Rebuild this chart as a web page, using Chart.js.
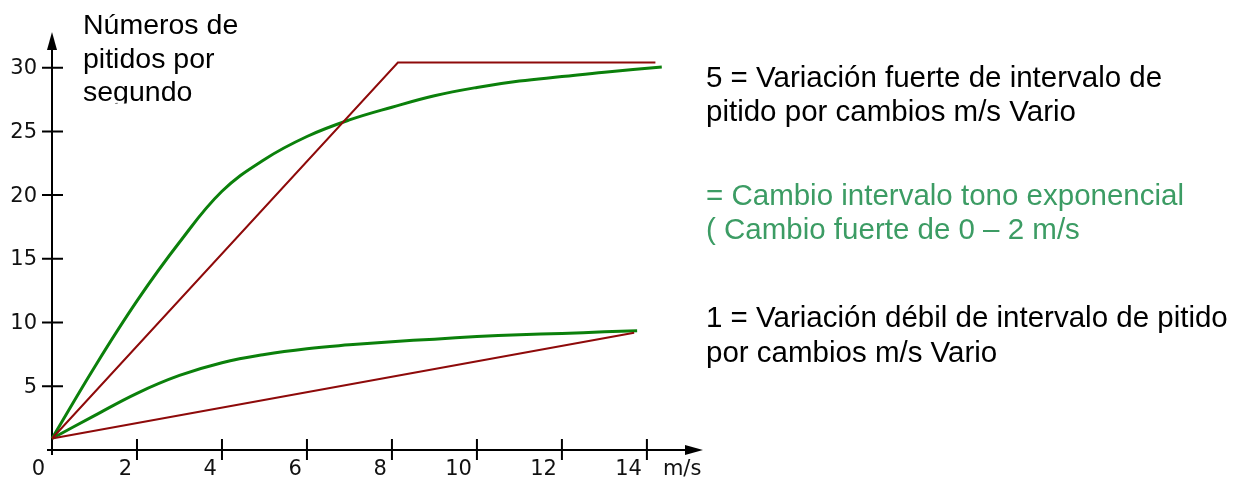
<!DOCTYPE html>
<html lang="es">
<head>
    <meta charset="UTF-8">
    <title>Pitidos por segundo</title>
    <script src="https://cdn.jsdelivr.net/npm/chart.js"></script>
    <style>
        html, body { margin: 0; padding: 0; background: #fff; }
        #wrap { width: 1237px; height: 477px; }
    </style>
</head>
<body>
    <div id="wrap"><canvas id="chart"></canvas></div>

    <script>
        // values (x in m/s, y in beeps per second)
        const strongLinearX = [0, 8.14, 14.2];
        const strongLinearY = [0.9, 30.4, 30.4];
        const strongExpX = [0, 1, 2, 3, 4, 5, 6, 7, 8, 9, 10, 11, 12, 13, 14.35];
        const strongExpY = [0.9, 6.5, 11.7, 16.3, 20.3, 22.8, 24.6, 25.9, 26.9, 27.8, 28.45, 28.95, 29.3, 29.65, 30.05];
        const weakLinearX = [0, 13.7];
        const weakLinearY = [0.9, 9.2];
        const weakExpX = [0, 1, 2, 3, 4, 5, 6, 7, 8, 9, 10, 11, 12, 13, 13.77];
        const weakExpY = [0.9, 2.7, 4.45, 5.85, 6.85, 7.5, 7.95, 8.25, 8.5, 8.7, 8.9, 9.05, 9.15, 9.27, 9.35];

        const xTicks = [2, 4, 6, 8, 10, 12, 14];
        const yTicks = [5, 10, 15, 20, 25, 30];
        const xUnit = 'm/s';
        const titleLines = ['Números de', 'pitidos por', 'segundo'];
        const noteStrong = ['5 = Variación fuerte de intervalo de', 'pitido por cambios m/s Vario'];
        const noteExp = ['= Cambio intervalo tono exponencial', '( Cambio fuerte de 0 – 2 m/s'];
        const noteWeak = ['1 = Variación débil de intervalo de pitido', 'por cambios m/s Vario'];

        const RED = '#8e0a0a';
        const GREEN = '#0b800b';
        const TEXT_GREEN = '#3c9c64';

        function pts(xs, ys) {
            return xs.map((x, i) => ({ x: x, y: ys[i] }));
        }

        // axes with arrows, crossing ticks and labels
        const axesPlugin = {
            id: 'axes',
            beforeDatasetsDraw(chart) {
                const ctx = chart.ctx;
                const xs = chart.scales.x, ys = chart.scales.y;
                const x0 = xs.getPixelForValue(0), y0 = ys.getPixelForValue(0);
                const xEnd = xs.right, yTop = ys.top;
                ctx.save();
                ctx.strokeStyle = '#000';
                ctx.fillStyle = '#000';
                ctx.lineWidth = 2;
                ctx.beginPath();
                ctx.moveTo(x0, y0 + 5); ctx.lineTo(x0, yTop + 12);
                ctx.moveTo(x0 - 5, y0); ctx.lineTo(xEnd - 12, y0);
                yTicks.forEach(v => {
                    const py = ys.getPixelForValue(v);
                    ctx.moveTo(x0 - 10, py); ctx.lineTo(x0 + 11, py);
                });
                xTicks.forEach(v => {
                    const px = xs.getPixelForValue(v);
                    ctx.moveTo(px, y0 - 11); ctx.lineTo(px, y0 + 10);
                });
                ctx.stroke();
                // arrow heads
                ctx.beginPath();
                ctx.moveTo(x0, yTop); ctx.lineTo(x0 - 5, yTop + 18); ctx.lineTo(x0 + 5, yTop + 18);
                ctx.closePath(); ctx.fill();
                ctx.beginPath();
                ctx.moveTo(xEnd, y0); ctx.lineTo(xEnd - 18, y0 - 5); ctx.lineTo(xEnd - 18, y0 + 5);
                ctx.closePath(); ctx.fill();

                ctx.font = '21px "DejaVu Sans"';
                ctx.fillStyle = '#111';
                ctx.textAlign = 'right';
                ctx.textBaseline = 'middle';
                yTicks.forEach(v => ctx.fillText(String(v), x0 - 15, ys.getPixelForValue(v) + 1));
                ctx.textBaseline = 'alphabetic';
                ctx.fillText('0', x0 - 7, y0 + 25);
                xTicks.forEach(v => ctx.fillText(String(v), xs.getPixelForValue(v) - 5, y0 + 25));
                ctx.textAlign = 'left';
                ctx.fillText(xUnit, xs.getPixelForValue(14) + 16, y0 + 25);
                ctx.restore();
            },
            afterDraw(chart) {
                const ctx = chart.ctx;
                ctx.save();
                ctx.textAlign = 'left';
                ctx.textBaseline = 'alphabetic';
                ctx.font = '28.5px "Liberation Sans", Arial, sans-serif';
                ctx.fillStyle = '#000';
                // the last title line is cut off at the bottom in the original
                ctx.save();
                ctx.beginPath();
                ctx.rect(0, 0, 400, 103.5);
                ctx.clip();
                titleLines.forEach((t, i) => ctx.fillText(t, 83, 34 + i * 33.5));
                ctx.restore();

                ctx.font = '29.5px "Liberation Sans", Arial, sans-serif';
                noteStrong.forEach((t, i) => ctx.fillText(t, 706, 87 + i * 34));
                ctx.fillStyle = TEXT_GREEN;
                noteExp.forEach((t, i) => ctx.fillText(t, 706, 205 + i * 34));
                ctx.fillStyle = '#000';
                noteWeak.forEach((t, i) => ctx.fillText(t, 706, 327 + i * 35));
                ctx.restore();
            }
        };

        const ctx = document.getElementById('chart');
        new Chart(ctx, {
            type: 'scatter',
            data: {
                datasets: [
                    { data: pts(strongLinearX, strongLinearY), borderColor: RED, borderWidth: 2 },
                    { data: pts(weakLinearX, weakLinearY), borderColor: RED, borderWidth: 2 },
                    { data: pts(strongExpX, strongExpY), borderColor: GREEN, borderWidth: 3, tension: 0.4 },
                    { data: pts(weakExpX, weakExpY), borderColor: GREEN, borderWidth: 3, tension: 0.4 }
                ].map(d => Object.assign({ showLine: true, pointRadius: 0, pointHoverRadius: 0, clip: false }, d))
            },
            options: {
                responsive: true,
                maintainAspectRatio: false,
                animation: false,
                events: [],
                layout: { padding: { left: 52, top: 32, right: 534, bottom: 27 } },
                plugins: { legend: { display: false }, tooltip: { enabled: false } },
                scales: {
                    x: { type: 'linear', display: false, min: 0, max: 15.32 },
                    y: { type: 'linear', display: false, min: 0, max: 32.8 }
                }
            },
            plugins: [axesPlugin]
        });
    </script>
</body>
</html>
